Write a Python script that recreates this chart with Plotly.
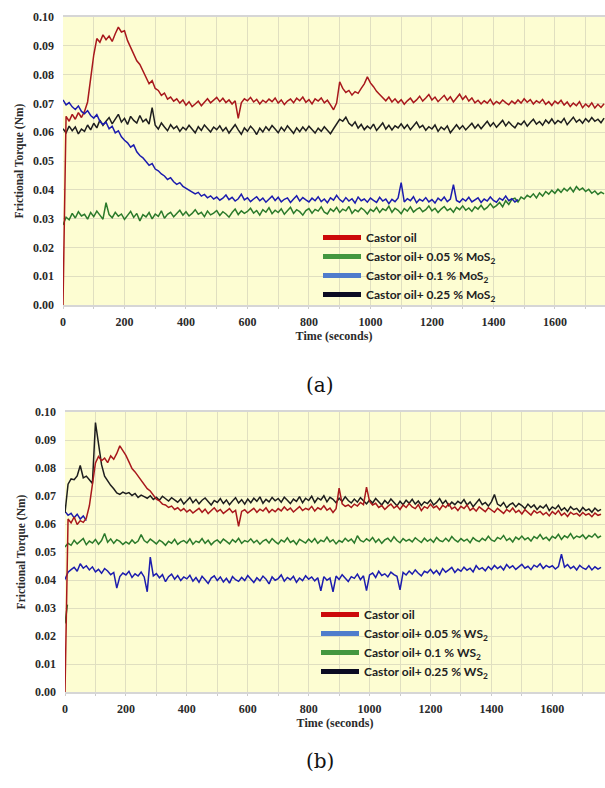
import plotly.graph_objects as go

# ---------------- Data ----------------
STEP = 10  # seconds between samples

# Panel (a): Castor oil + MoS2
red_a = [
 0.0000, 0.0655, 0.0638, 0.0662, 0.0645, 0.0668, 0.0651, 0.0672, 0.0705, 0.0795,
 0.0868, 0.0925, 0.0912, 0.0938, 0.0921, 0.0934, 0.0915, 0.0942, 0.0965, 0.0948,
 0.0952, 0.0918, 0.0896, 0.0872, 0.0848, 0.0835, 0.0812, 0.0791, 0.0768, 0.0779,
 0.0752, 0.0745, 0.0728, 0.0736, 0.0715, 0.0722, 0.0708, 0.0716, 0.0701, 0.0712,
 0.0694, 0.0706, 0.0689, 0.0698, 0.0708, 0.0692, 0.0705, 0.0716, 0.0702, 0.0713,
 0.0721, 0.0706, 0.0718, 0.0703, 0.0712, 0.0698, 0.0709, 0.0648, 0.0702, 0.0716,
 0.0709, 0.0721, 0.0705, 0.0714, 0.0698, 0.0711, 0.0703, 0.0715, 0.0706, 0.0719,
 0.0701, 0.0712, 0.0696, 0.0708, 0.0715, 0.0702, 0.0718, 0.0709, 0.0722, 0.0704,
 0.0713, 0.0698, 0.0716, 0.0708, 0.0719, 0.0702, 0.0711, 0.0695, 0.0678, 0.0701,
 0.0775, 0.0752, 0.0738, 0.0745, 0.0729, 0.0741, 0.0735, 0.0752, 0.0768, 0.0792,
 0.0771, 0.0758, 0.0742, 0.0731, 0.0718, 0.0709, 0.0722, 0.0705, 0.0716, 0.0702,
 0.0713, 0.0697, 0.0709, 0.0718, 0.0703, 0.0712, 0.0725, 0.0708, 0.0719, 0.0731,
 0.0712, 0.0722, 0.0706, 0.0717, 0.0728, 0.0711, 0.0723, 0.0705, 0.0718, 0.0732,
 0.0714, 0.0726, 0.0708, 0.0719, 0.0702, 0.0711, 0.0698, 0.0709, 0.0701, 0.0714,
 0.0696, 0.0707, 0.0699, 0.0712, 0.0703, 0.0695, 0.0708, 0.0699, 0.0712, 0.0701,
 0.0716, 0.0704, 0.0713, 0.0698, 0.0709, 0.0702, 0.0714, 0.0697, 0.0706, 0.0693,
 0.0708, 0.0699, 0.0711, 0.0694, 0.0705, 0.0689, 0.0701, 0.0692, 0.0706, 0.0685,
 0.0698, 0.0688, 0.0702, 0.0684, 0.0697, 0.0686, 0.0699,
]

green_a = [
 0.0278, 0.0305, 0.0296, 0.0318, 0.0302, 0.0324, 0.0309, 0.0315, 0.0298, 0.0321,
 0.0307, 0.0326, 0.0312, 0.0298, 0.0355, 0.0314, 0.0303, 0.0322, 0.0308, 0.0316,
 0.0297, 0.0311, 0.0325, 0.0304, 0.0318, 0.0292, 0.0314, 0.0306, 0.0321, 0.0299,
 0.0316, 0.0308, 0.0327, 0.0301, 0.0315, 0.0322, 0.0306, 0.0318, 0.0329, 0.0312,
 0.0324, 0.0309, 0.0318, 0.0331, 0.0315, 0.0322, 0.0307, 0.0326, 0.0313, 0.0319,
 0.0328, 0.0311, 0.0324, 0.0316, 0.0305, 0.0321, 0.0333, 0.0314, 0.0327, 0.0318,
 0.0325, 0.0336, 0.0319, 0.0328, 0.0312, 0.0331, 0.0322, 0.0338, 0.0317, 0.0329,
 0.0321, 0.0334, 0.0315, 0.0327, 0.0339, 0.0318, 0.0331, 0.0324, 0.0312, 0.0328,
 0.0335, 0.0319, 0.0332, 0.0326, 0.0341, 0.0322, 0.0316, 0.0334, 0.0325, 0.0339,
 0.0321, 0.0333, 0.0327, 0.0342, 0.0318, 0.0331, 0.0324, 0.0337, 0.0329, 0.0316,
 0.0332, 0.0325, 0.0339, 0.0321, 0.0334, 0.0328, 0.0343, 0.0322, 0.0336, 0.0329,
 0.0317, 0.0335, 0.0326, 0.0341, 0.0323, 0.0332, 0.0338, 0.0324, 0.0331, 0.0344,
 0.0327, 0.0336, 0.0321, 0.0333, 0.0342, 0.0328, 0.0335, 0.0322, 0.0339, 0.0331,
 0.0344, 0.0329, 0.0337, 0.0325, 0.0341, 0.0333, 0.0346, 0.0331, 0.0339, 0.0352,
 0.0338, 0.0345, 0.0356, 0.0341, 0.0362, 0.0349, 0.0367, 0.0371, 0.0358, 0.0375,
 0.0368, 0.0381, 0.0374, 0.0386, 0.0372, 0.0389, 0.0378, 0.0394, 0.0385, 0.0398,
 0.0388, 0.0402, 0.0391, 0.0405, 0.0396, 0.0408, 0.0393, 0.0411, 0.0399, 0.0406,
 0.0394, 0.0402, 0.0388, 0.0396, 0.0384, 0.0392, 0.0386,
]

blue_a = [
 0.0712, 0.0695, 0.0703, 0.0688, 0.0679, 0.0691, 0.0672, 0.0664, 0.0675, 0.0658,
 0.0649, 0.0661, 0.0638, 0.0627, 0.0635, 0.0612, 0.0621, 0.0598, 0.0605, 0.0584,
 0.0572, 0.0563, 0.0548, 0.0556, 0.0532, 0.0519, 0.0511, 0.0498, 0.0485, 0.0491,
 0.0472, 0.0466, 0.0455, 0.0448, 0.0436, 0.0442, 0.0428, 0.0419, 0.0425, 0.0412,
 0.0405, 0.0398, 0.0392, 0.0386, 0.0391, 0.0378, 0.0384, 0.0372, 0.0379, 0.0368,
 0.0375, 0.0364, 0.0371, 0.0382, 0.0366, 0.0374, 0.0361, 0.0369, 0.0385, 0.0365,
 0.0372, 0.0359, 0.0368, 0.0376, 0.0362, 0.0371, 0.0357, 0.0369, 0.0378, 0.0363,
 0.0374, 0.0358, 0.0367, 0.0372, 0.0356, 0.0368, 0.0379, 0.0361, 0.0373, 0.0365,
 0.0358, 0.0371, 0.0362, 0.0376, 0.0359, 0.0368, 0.0355, 0.0372, 0.0364, 0.0381,
 0.0366, 0.0358, 0.0373, 0.0361, 0.0369, 0.0354, 0.0375, 0.0362, 0.0368, 0.0357,
 0.0371, 0.0363, 0.0356, 0.0374, 0.0361, 0.0368, 0.0352, 0.0367, 0.0359, 0.0372,
 0.0425, 0.0358, 0.0369, 0.0362, 0.0376, 0.0355, 0.0367, 0.0361, 0.0373, 0.0358,
 0.0366, 0.0354, 0.0371, 0.0362, 0.0375, 0.0359, 0.0368, 0.0418, 0.0363, 0.0357,
 0.0369, 0.0361, 0.0374, 0.0358, 0.0366, 0.0372, 0.0356, 0.0368, 0.0361, 0.0375,
 0.0363, 0.0357, 0.0371, 0.0364, 0.0378, 0.0362, 0.0369, 0.0358, 0.0366,
]

black_a = [
 0.0612, 0.0598, 0.0621, 0.0605, 0.0618, 0.0594, 0.0611, 0.0603, 0.0625, 0.0608,
 0.0631, 0.0615, 0.0642, 0.0624, 0.0638, 0.0651, 0.0629, 0.0646, 0.0662, 0.0635,
 0.0648, 0.0627, 0.0655, 0.0641, 0.0632, 0.0658, 0.0636, 0.0645, 0.0628, 0.0685,
 0.0624, 0.0611, 0.0632, 0.0618, 0.0605, 0.0626, 0.0612, 0.0621, 0.0603, 0.0617,
 0.0608, 0.0624, 0.0611, 0.0598, 0.0619, 0.0606, 0.0625, 0.0613, 0.0601, 0.0618,
 0.0609, 0.0622, 0.0604, 0.0616, 0.0597, 0.0612, 0.0626, 0.0608, 0.0593, 0.0615,
 0.0603, 0.0621, 0.0609, 0.0592, 0.0614, 0.0601, 0.0619, 0.0606, 0.0623, 0.0611,
 0.0598, 0.0617, 0.0604, 0.0622, 0.0608, 0.0596, 0.0615, 0.0602, 0.0618, 0.0605,
 0.0621, 0.0609, 0.0597, 0.0614, 0.0603, 0.0619, 0.0607, 0.0595, 0.0612, 0.0628,
 0.0645, 0.0638, 0.0652, 0.0631, 0.0622, 0.0636, 0.0614, 0.0627, 0.0609, 0.0621,
 0.0612, 0.0628, 0.0606, 0.0619, 0.0632, 0.0611, 0.0624, 0.0608, 0.0622, 0.0615,
 0.0629, 0.0613, 0.0626, 0.0609, 0.0621, 0.0635, 0.0616, 0.0624, 0.0607, 0.0619,
 0.0611, 0.0625, 0.0603, 0.0618, 0.0609, 0.0622, 0.0598, 0.0614, 0.0626, 0.0611,
 0.0623, 0.0608, 0.0619, 0.0631, 0.0614, 0.0627, 0.0612, 0.0625, 0.0638, 0.0621,
 0.0633, 0.0617, 0.0629, 0.0641, 0.0622, 0.0636, 0.0624, 0.0615, 0.0632, 0.0626,
 0.0639, 0.0621, 0.0634, 0.0645, 0.0628, 0.0637, 0.0624, 0.0642, 0.0631, 0.0646,
 0.0629, 0.0641, 0.0633, 0.0648, 0.0626, 0.0639, 0.0652, 0.0635, 0.0644, 0.0631,
 0.0647, 0.0636, 0.0651, 0.0638, 0.0645, 0.0633, 0.0649,
]

# Panel (b): Castor oil + WS2
red_b = [
 0.0000, 0.0618, 0.0604, 0.0625, 0.0598, 0.0612, 0.0606, 0.0621, 0.0665, 0.0752,
 0.0818, 0.0841, 0.0826, 0.0835, 0.0819, 0.0843, 0.0831, 0.0852, 0.0879, 0.0862,
 0.0845, 0.0822, 0.0798, 0.0786, 0.0771, 0.0758, 0.0739, 0.0726, 0.0718, 0.0702,
 0.0689, 0.0683, 0.0671, 0.0668, 0.0659, 0.0664, 0.0652, 0.0658, 0.0647, 0.0655,
 0.0643, 0.0651, 0.0639, 0.0648, 0.0656, 0.0642, 0.0653, 0.0637, 0.0649, 0.0658,
 0.0644, 0.0652, 0.0638, 0.0647, 0.0655, 0.0641, 0.0649, 0.0592, 0.0645, 0.0651,
 0.0639, 0.0648, 0.0656, 0.0642, 0.0653, 0.0646, 0.0658, 0.0641, 0.0652, 0.0644,
 0.0655, 0.0647, 0.0661, 0.0649, 0.0657, 0.0643, 0.0654, 0.0662, 0.0648, 0.0656,
 0.0651, 0.0663, 0.0646, 0.0658, 0.0652, 0.0665, 0.0649, 0.0657, 0.0641, 0.0655,
 0.0728, 0.0672, 0.0663, 0.0668, 0.0659, 0.0671, 0.0664, 0.0677, 0.0669, 0.0732,
 0.0681, 0.0668, 0.0674, 0.0659, 0.0666, 0.0652, 0.0663, 0.0671, 0.0657, 0.0665,
 0.0652, 0.0668, 0.0659, 0.0673, 0.0661, 0.0655, 0.0669, 0.0648, 0.0662, 0.0656,
 0.0671, 0.0658, 0.0664, 0.0651, 0.0667, 0.0659, 0.0672, 0.0654, 0.0661, 0.0648,
 0.0663, 0.0655, 0.0668, 0.0649, 0.0657, 0.0646, 0.0661, 0.0653, 0.0644, 0.0658,
 0.0651, 0.0642, 0.0656, 0.0647, 0.0638, 0.0652, 0.0644, 0.0657, 0.0641, 0.0649,
 0.0636, 0.0651, 0.0643, 0.0632, 0.0648, 0.0639, 0.0645, 0.0633, 0.0641, 0.0629,
 0.0644, 0.0635, 0.0648, 0.0631, 0.0639, 0.0627, 0.0642, 0.0634, 0.0638, 0.0629,
 0.0641, 0.0632, 0.0637, 0.0626, 0.0639, 0.0631, 0.0635,
]

blue_b_start_t = [0, 10, 20, 30, 40, 50, 60, 70]
blue_b_start = [0.0645, 0.0631, 0.0638, 0.0622, 0.0635, 0.0618, 0.0629, 0.0612]

blue_b = [
 0.0402, 0.0428, 0.0437, 0.0445, 0.0431, 0.0458, 0.0442, 0.0451, 0.0436, 0.0447,
 0.0429, 0.0438, 0.0424, 0.0441, 0.0432, 0.0419, 0.0427, 0.0371, 0.0412, 0.0425,
 0.0418, 0.0431, 0.0409, 0.0422, 0.0414, 0.0428, 0.0411, 0.0358, 0.0482, 0.0415,
 0.0423, 0.0408, 0.0419, 0.0394, 0.0412, 0.0421, 0.0403, 0.0416, 0.0398, 0.0411,
 0.0404, 0.0417, 0.0396, 0.0409, 0.0392, 0.0413, 0.0401, 0.0388, 0.0407, 0.0415,
 0.0398, 0.0411, 0.0393, 0.0406, 0.0389, 0.0412, 0.0401, 0.0395, 0.0409, 0.0398,
 0.0416, 0.0402, 0.0391, 0.0408, 0.0397, 0.0414, 0.0403, 0.0386, 0.0411, 0.0399,
 0.0405, 0.0418, 0.0396, 0.0409, 0.0401, 0.0413, 0.0392, 0.0407, 0.0398, 0.0415,
 0.0403, 0.0411, 0.0397, 0.0408, 0.0361, 0.0412, 0.0399, 0.0407, 0.0358, 0.0414,
 0.0402, 0.0419, 0.0408, 0.0395, 0.0412, 0.0406, 0.0421, 0.0401, 0.0415, 0.0362,
 0.0418, 0.0425, 0.0409, 0.0431, 0.0416, 0.0422, 0.0411, 0.0428, 0.0419, 0.0413,
 0.0365, 0.0427, 0.0418, 0.0432, 0.0421, 0.0436, 0.0424, 0.0415, 0.0431, 0.0426,
 0.0438, 0.0423, 0.0434, 0.0419, 0.0441, 0.0428, 0.0436, 0.0445, 0.0427, 0.0439,
 0.0431, 0.0446, 0.0435, 0.0442, 0.0429, 0.0451, 0.0438, 0.0444, 0.0433, 0.0448,
 0.0437, 0.0452, 0.0441, 0.0449, 0.0436, 0.0455, 0.0443, 0.0451, 0.0438, 0.0447,
 0.0456, 0.0442, 0.0449, 0.0437, 0.0453, 0.0446, 0.0458, 0.0441, 0.0452, 0.0445,
 0.0451, 0.0439, 0.0448, 0.0492, 0.0446, 0.0455, 0.0441, 0.0449, 0.0436, 0.0452,
 0.0443, 0.0438, 0.0451, 0.0436, 0.0447, 0.0439, 0.0445,
]

green_b_start_t = [0, 4, 8]
green_b_start = [0.0245, 0.0285, 0.0312]

green_b = [
 0.0518, 0.0531, 0.0524, 0.0542, 0.0529, 0.0537, 0.0548, 0.0526, 0.0539, 0.0532,
 0.0545, 0.0528, 0.0541, 0.0566, 0.0535, 0.0547, 0.0531, 0.0544, 0.0538, 0.0527,
 0.0536, 0.0529, 0.0543, 0.0531, 0.0539, 0.0562, 0.0541, 0.0533, 0.0546, 0.0538,
 0.0529, 0.0542, 0.0535, 0.0524, 0.0538, 0.0531, 0.0545, 0.0527, 0.0536, 0.0541,
 0.0532, 0.0547, 0.0528, 0.0539, 0.0534, 0.0548, 0.0531, 0.0542, 0.0526, 0.0537,
 0.0543, 0.0532, 0.0546, 0.0538, 0.0529, 0.0544, 0.0535, 0.0549, 0.0531, 0.0541,
 0.0536, 0.0547, 0.0533, 0.0542, 0.0528, 0.0539, 0.0545, 0.0532, 0.0548, 0.0537,
 0.0529, 0.0543, 0.0536, 0.0551, 0.0534, 0.0541, 0.0527, 0.0545, 0.0538, 0.0532,
 0.0546, 0.0535, 0.0548, 0.0531, 0.0542, 0.0537, 0.0553, 0.0536, 0.0544, 0.0529,
 0.0541, 0.0535, 0.0549, 0.0538, 0.0546, 0.0532, 0.0558, 0.0541, 0.0536, 0.0547,
 0.0539, 0.0552, 0.0535, 0.0546, 0.0531, 0.0543, 0.0549, 0.0537, 0.0554, 0.0541,
 0.0533, 0.0548, 0.0539, 0.0545, 0.0536, 0.0551, 0.0542, 0.0534, 0.0549, 0.0538,
 0.0546, 0.0535, 0.0552, 0.0541, 0.0537, 0.0549, 0.0538, 0.0555, 0.0543, 0.0536,
 0.0548, 0.0539, 0.0546, 0.0533, 0.0551, 0.0542, 0.0537, 0.0549, 0.0541, 0.0556,
 0.0543, 0.0538, 0.0552, 0.0546, 0.0559, 0.0541, 0.0549, 0.0536, 0.0553, 0.0545,
 0.0557, 0.0544, 0.0551, 0.0539, 0.0555, 0.0548, 0.0562, 0.0546, 0.0553, 0.0541,
 0.0556, 0.0549, 0.0563, 0.0545, 0.0558, 0.0551, 0.0566, 0.0548, 0.0557, 0.0552,
 0.0561, 0.0547, 0.0559, 0.0553, 0.0565, 0.0551, 0.0558,
]

black_b = [
 0.0640, 0.0742, 0.0761, 0.0758, 0.0772, 0.0809, 0.0765, 0.0771, 0.0758, 0.0745,
 0.0962, 0.0878, 0.0812, 0.0771, 0.0752, 0.0738, 0.0726, 0.0711, 0.0706, 0.0714,
 0.0708, 0.0712, 0.0702, 0.0709, 0.0695, 0.0703, 0.0698, 0.0692, 0.0701, 0.0688,
 0.0696, 0.0685, 0.0699, 0.0691, 0.0682, 0.0694, 0.0686, 0.0678, 0.0689, 0.0671,
 0.0683, 0.0695, 0.0676, 0.0688, 0.0672, 0.0685, 0.0693, 0.0679, 0.0668, 0.0684,
 0.0677, 0.0691, 0.0673, 0.0686, 0.0669, 0.0682, 0.0694, 0.0675, 0.0687, 0.0671,
 0.0689, 0.0676, 0.0692, 0.0681, 0.0697, 0.0674, 0.0688, 0.0679, 0.0695, 0.0683,
 0.0691, 0.0678, 0.0696, 0.0685, 0.0673, 0.0689, 0.0681, 0.0698, 0.0676, 0.0692,
 0.0684, 0.0699, 0.0677, 0.0693, 0.0686, 0.0701, 0.0679, 0.0695, 0.0688, 0.0676,
 0.0692, 0.0681, 0.0697, 0.0684, 0.0675, 0.0689, 0.0678, 0.0694, 0.0683, 0.0672,
 0.0686, 0.0675, 0.0691, 0.0679, 0.0668, 0.0684, 0.0673, 0.0689, 0.0677, 0.0665,
 0.0681, 0.0669, 0.0685, 0.0674, 0.0688, 0.0671, 0.0682, 0.0666, 0.0679, 0.0673,
 0.0686, 0.0668, 0.0677, 0.0691, 0.0672, 0.0684, 0.0665, 0.0678, 0.0669, 0.0681,
 0.0673, 0.0687, 0.0668, 0.0679, 0.0662, 0.0675, 0.0688, 0.0669, 0.0677, 0.0664,
 0.0679, 0.0705, 0.0671, 0.0664, 0.0677, 0.0658, 0.0669, 0.0675, 0.0661, 0.0673,
 0.0666, 0.0655, 0.0671, 0.0659, 0.0668, 0.0652, 0.0664, 0.0657, 0.0669, 0.0648,
 0.0661, 0.0654, 0.0667, 0.0649, 0.0658, 0.0645, 0.0662, 0.0651, 0.0656, 0.0643,
 0.0659, 0.0648, 0.0654, 0.0642, 0.0657, 0.0646, 0.0652,
]

legend_a = ["Castor oil", "Castor oil+ 0.05 % MoS<sub>2</sub>",
            "Castor oil+ 0.1 % MoS<sub>2</sub>", "Castor oil+ 0.25 % MoS<sub>2</sub>"]
legend_b = ["Castor oil", "Castor oil+ 0.05 % WS<sub>2</sub>",
            "Castor oil+ 0.1 % WS<sub>2</sub>", "Castor oil+ 0.25 % WS<sub>2</sub>"]
y_ticks = [0.00, 0.01, 0.02, 0.03, 0.04, 0.05, 0.06, 0.07, 0.08, 0.09, 0.10]
x_ticks = [0, 200, 400, 600, 800, 1000, 1200, 1400, 1600]


def times(vals):
    return [STEP * i for i in range(len(vals))]

# ---------------- Styles ----------------
C_RED, C_GREEN, C_BLUE, C_BLACK = "#a8181c", "#2b7a2b", "#1c1cae", "#1e1e1e"
L_RED, L_GREEN, L_BLUE, L_BLACK = "#cc0a0a", "#43973f", "#4f7ccc", "#0b0b22"
LW = 1.5

fig = go.Figure()

def add(x, y, color, xa, ya):
    fig.add_trace(go.Scatter(x=x, y=y, mode="lines", xaxis=xa, yaxis=ya,
                             line=dict(color=color, width=LW), showlegend=False,
                             hoverinfo="skip"))

# panel a
add(times(green_a), green_a, C_GREEN, "x", "y")
add(times(black_a), black_a, C_BLACK, "x", "y")
add(times(red_a), red_a, C_RED, "x", "y")
add(times(blue_a), blue_a, C_BLUE, "x", "y")
# panel b
add(green_b_start_t, green_b_start, C_GREEN, "x2", "y2")
add(times(green_b), green_b, C_GREEN, "x2", "y2")
add(times(blue_b), blue_b, C_BLUE, "x2", "y2")
add(blue_b_start_t, blue_b_start, C_BLUE, "x2", "y2")
add(times(black_b), black_b, C_BLACK, "x2", "y2")
add(times(red_b), red_b, C_RED, "x2", "y2")

# legend entries
for name, col in zip(legend_a, [L_RED, L_GREEN, L_BLUE, L_BLACK]):
    fig.add_trace(go.Scatter(x=[None], y=[None], mode="lines", name="<b>%s</b>" % name,
                             line=dict(color=col, width=5), legend="legend",
                             xaxis="x", yaxis="y"))
for name, col in zip(legend_b, [L_RED, L_BLUE, L_GREEN, L_BLACK]):
    fig.add_trace(go.Scatter(x=[None], y=[None], mode="lines", name="<b>%s</b>" % name,
                             line=dict(color=col, width=5), legend="legend2",
                             xaxis="x2", yaxis="y2"))

W, H = 605, 788
SERIF = "Liberation Serif"
tickfont = dict(family=SERIF, size=12, color="#2a2a2a", weight="bold")
titlefont = dict(family=SERIF, size=12, color="#2a2a2a", weight="bold")
GRID = "#e0dfc0"
BG = "#fdfdd2"

def xaxis(domain, rng):
    return dict(domain=domain, range=rng, tickvals=x_ticks, showgrid=True,
                gridcolor=GRID, gridwidth=1, zeroline=False,
                minor=dict(dtick=100, tick0=0, showgrid=True, gridcolor=GRID,
                           ticks="outside", ticklen=2, tickcolor="#cccccc"),
                ticks="outside", ticklen=2, tickcolor="#cccccc",
                showline=True, linecolor="#d6d6d6", linewidth=2, mirror=True,
                tickfont=tickfont, ticklabelstandoff=3,
                title=dict(text="Time (seconds)", font=titlefont, standoff=2),
                automargin=False, fixedrange=True)

def yaxis(domain, anchor):
    return dict(domain=domain, range=[0, 0.1], tickvals=y_ticks,
                tickformat=".2f", showgrid=True, gridcolor=GRID, zeroline=False,
                showline=False, tickfont=tickfont, ticks="", ticklabelstandoff=8,
                title=dict(text="Frictional Torque (Nm)", font=dict(family=SERIF, size=11.5,
                           color="#2a2a2a", weight="bold"), standoff=6),
                automargin=False, anchor=anchor, fixedrange=True)

legfont = dict(family="Lato", size=12, color="#222222")
fig.update_layout(
    width=W, height=H, margin=dict(l=0, r=0, t=0, b=0),
    paper_bgcolor="white", plot_bgcolor=BG,
    xaxis=xaxis([63 / W, 1.0], [0, 1763]) | dict(anchor="y"),
    yaxis=yaxis([1 - 305 / H, 1 - 17 / H], "x"),
    xaxis2=xaxis([65 / W, 1.0], [0, 1773]) | dict(anchor="y2"),
    yaxis2=yaxis([1 - 692 / H, 1 - 412 / H], "x2"),
    legend=dict(x=318 / W, y=1 - 223 / H, xanchor="left", yanchor="top",
                bgcolor="rgba(0,0,0,0)", font=legfont, tracegroupgap=0,
                itemwidth=38),
    legend2=dict(x=316 / W, y=1 - 600 / H, xanchor="left", yanchor="top",
                 bgcolor="rgba(0,0,0,0)", font=legfont, tracegroupgap=0,
                 itemwidth=38),
    annotations=[
        dict(text="(a)", x=320 / W, y=1 - 385 / H, xref="paper", yref="paper",
             showarrow=False, font=dict(family="DejaVu Serif", size=20, color="#111111")),
        dict(text="(b)", x=320 / W, y=1 - 775 / H, xref="paper", yref="paper",
             showarrow=False, font=dict(family="DejaVu Serif", size=20, color="#111111")),
    ],
)

fig.write_html("out.html")
